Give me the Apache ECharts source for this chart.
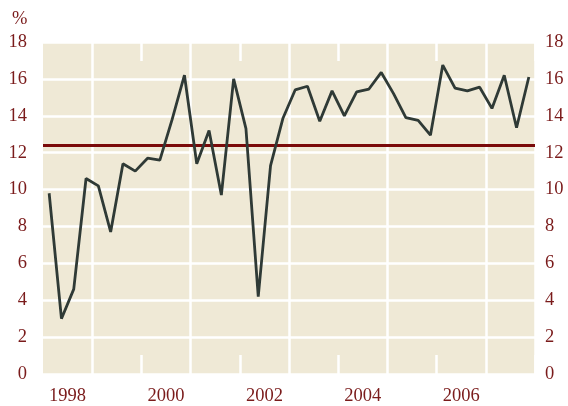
<!DOCTYPE html>
<html>
<head>
<meta charset="utf-8">
<script src="https://cdn.jsdelivr.net/npm/echarts@6/dist/echarts.min.js"></script>
<style>
  html, body { margin: 0; padding: 0; background: #fff; }
  #chart { width: 568px; height: 406px; }
</style>
</head>
<body>
<div id="chart"></div>
<script>
// years on the bottom axis, quarterly values for the line
var years = ['1998', '1999', '2000', '2001', '2002', '2003', '2004', '2005', '2006', '2007'];
var quarterNames = ['Q1', 'Q2', 'Q3', 'Q4'];
var values = [
  9.8, 3.0, 4.6, 10.6,
  10.2, 7.7, 11.4, 11.0,
  11.7, 11.6, 13.8, 16.2,
  11.4, 13.2, 9.7, 16.0,
  13.3, 4.2, 11.3, 13.85,
  15.4, 15.6, 13.7, 15.35,
  14.0, 15.3, 15.45, 16.35,
  15.2, 13.9, 13.75, 12.95,
  16.75, 15.5, 15.35, 15.55,
  14.4, 16.2, 13.35, 16.1
];
var average = 12.4;
var yTicks = [0, 2, 4, 6, 8, 10, 12, 14, 16, 18];

var quarters = [];
years.forEach(function (y) {
  quarterNames.forEach(function (q) { quarters.push(y + q); });
});

var red = '#7a1b1b';
var font = 'Liberation Serif';
var fsize = 18.5;

var myChart = echarts.init(document.getElementById('chart'));
var option = {
  animation: false,
  title: {
    text: '%',
    left: 7,
    top: 5,
    textStyle: { color: red, fontFamily: font, fontSize: fsize, fontWeight: 'normal' }
  },
  grid: {
    left: 43, right: 33, top: 42, bottom: 30,
    show: true, backgroundColor: '#efe9d6', borderWidth: 0
  },
  xAxis: [
    {
      type: 'category', data: quarters, boundaryGap: true, show: false
    },
    {
      type: 'category', data: years, boundaryGap: true, position: 'bottom',
      axisLine: { show: false },
      axisTick: {
        show: true, inside: true, length: 19,
        interval: function (i) { return i > 0 && i < years.length && i % 2 === 0; },
        lineStyle: { color: '#fff', width: 2.5 }
      },
      splitLine: {
        show: true,
        interval: function (i) { return i % 2 === 1; },
        lineStyle: { color: '#fff', width: 2.5 }
      },
      axisLabel: {
        interval: function (i) { return i % 2 === 0; },
        color: red, fontFamily: font, fontSize: fsize, margin: 13
      }
    },
    {
      type: 'category', data: years, boundaryGap: true, position: 'top',
      axisLine: { show: false },
      axisLabel: { show: false },
      axisTick: {
        show: true, inside: true, length: 19,
        interval: function (i) { return i > 0 && i < years.length && i % 2 === 0; },
        lineStyle: { color: '#fff', width: 2.5 }
      },
      splitLine: { show: false }
    }
  ],
  yAxis: [
    {
      type: 'value', min: yTicks[0], max: yTicks[yTicks.length - 1], interval: 2, position: 'left',
      axisLine: { show: false }, axisTick: { show: false },
      axisLabel: { color: red, fontFamily: font, fontSize: fsize, margin: 16 },
      splitLine: { show: true, lineStyle: { color: '#fff', width: 2.5 } }
    },
    {
      type: 'value', min: yTicks[0], max: yTicks[yTicks.length - 1], interval: 2, position: 'right',
      axisLine: { show: false }, axisTick: { show: false },
      axisLabel: { color: red, fontFamily: font, fontSize: fsize, margin: 10 },
      splitLine: { show: false }
    }
  ],
  series: [
    {
      type: 'line',
      xAxisIndex: 0,
      yAxisIndex: 0,
      data: values,
      symbol: 'none',
      lineStyle: { color: '#2f3a36', width: 2.8 },
      z: 3,
      markLine: {
        silent: true,
        symbol: 'none',
        label: { show: false },
        lineStyle: { color: '#7a0a0a', width: 2.8, type: 'solid' },
        data: [{ yAxis: average }],
        z: 2
      }
    }
  ]
};
myChart.setOption(option);
</script>
</body>
</html>
